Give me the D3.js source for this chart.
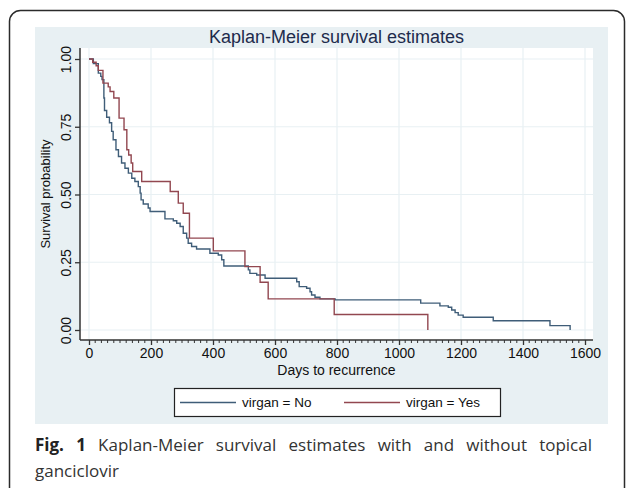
<!DOCTYPE html>
<html>
<head>
<meta charset="utf-8">
<script src="https://cdn.jsdelivr.net/npm/d3@7"></script>
<style>
  body { margin: 0; background: #fff; }
</style>
</head>
<body>
<div id="graph"></div>
<script>
// temps (jours) et survie
const noTime = [0, 14, 30, 38, 42, 48, 50, 57, 66, 73, 78, 87, 95, 105, 116, 127, 138, 148, 159, 165, 168, 175, 191, 197, 245, 272, 283, 294, 304, 315, 320, 331, 347, 390, 417, 428, 435, 514, 519, 541, 568, 670, 678, 702, 713, 718, 729, 745, 794, 1070, 1132, 1159, 1170, 1181, 1191, 1207, 1304, 1487, 1552];
const noSurv = [1, 0.983, 0.948, 0.936, 0.924, 0.856, 0.81, 0.785, 0.765, 0.733, 0.702, 0.665, 0.640, 0.616, 0.597, 0.579, 0.560, 0.548, 0.529, 0.505, 0.480, 0.465, 0.450, 0.437, 0.410, 0.403, 0.394, 0.382, 0.357, 0.339, 0.320, 0.308, 0.299, 0.283, 0.277, 0.259, 0.236, 0.222, 0.209, 0.203, 0.191, 0.178, 0.160, 0.154, 0.141, 0.129, 0.121, 0.115, 0.111, 0.099, 0.089, 0.084, 0.074, 0.064, 0.055, 0.047, 0.034, 0.016, 0.0];
const yesTime = [0, 12, 23, 30, 45, 62, 68, 80, 97, 113, 122, 128, 136, 141, 170, 262, 288, 304, 324, 401, 503, 552, 578, 791, 1093];
const yesSurv = [1, 0.988, 0.975, 0.958, 0.911, 0.897, 0.880, 0.856, 0.782, 0.739, 0.665, 0.646, 0.616, 0.585, 0.548, 0.511, 0.468, 0.431, 0.339, 0.292, 0.234, 0.176, 0.115, 0.057, 0];

const xTicks = [0, 200, 400, 600, 800, 1000, 1200, 1400, 1600];
const yTicks = [0, 0.25, 0.5, 0.75, 1];
const series = ["virgan = No", "virgan = Yes"];

const width = 627, height = 488;
const colors = { "virgan = No": "#3f5d78", "virgan = Yes": "#924750" };
const font = "'Liberation Sans', Arial, sans-serif";
const capFont = "'Open Sans', 'Noto Sans', sans-serif";

const svg = d3.select("#graph").append("svg")
    .attr("width", width)
    .attr("height", height);

// cadre arrondi de la figure
svg.append("rect")
    .attr("x", 9.5).attr("y", 10.5)
    .attr("width", 615).attr("height", 520)
    .attr("rx", 11)
    .attr("fill", "none").attr("stroke", "#2b2b2b").attr("stroke-width", 1.5);

// fond bleu clair (graph region) et zone blanche (plot region)
svg.append("rect").attr("x", 35).attr("y", 27).attr("width", 573).attr("height", 397).attr("fill", "#e8f0f3");
const plot = { left: 80, right: 593, top: 48, bottom: 340 };
svg.append("rect")
    .attr("x", plot.left).attr("y", plot.top)
    .attr("width", plot.right - plot.left).attr("height", plot.bottom - plot.top)
    .attr("fill", "#fff");

const x = d3.scaleLinear().domain([0, 1600]).range([89, 585]);
const y = d3.scaleLinear().domain([0, 1]).range([330, 59]);

// grille
svg.append("g").selectAll("line").data(xTicks).join("line")
    .attr("x1", d => x(d)).attr("x2", d => x(d))
    .attr("y1", plot.top).attr("y2", plot.bottom)
    .attr("stroke", "#e8f0f3").attr("stroke-width", 1.2);
svg.append("g").selectAll("line").data(yTicks).join("line")
    .attr("x1", plot.left).attr("x2", plot.right)
    .attr("y1", d => y(d)).attr("y2", d => y(d))
    .attr("stroke", "#e8f0f3").attr("stroke-width", 1.2);

// courbes en escalier
const line = d3.line()
    .x(d => x(d[0]))
    .y(d => y(d[1]))
    .curve(d3.curveStepAfter);

const curves = [
    { name: series[0], pts: d3.zip(noTime, noSurv) },
    { name: series[1], pts: d3.zip(yesTime, yesSurv) }
];
svg.append("g").selectAll("path").data(curves).join("path")
    .attr("fill", "none")
    .attr("stroke", d => colors[d.name])
    .attr("stroke-width", 1.4)
    .attr("d", d => line(d.pts));

// axe X
const gx = svg.append("g")
    .attr("transform", `translate(0,${plot.bottom})`)
    .call(d3.axisBottom(x).tickValues(xTicks).tickFormat(d3.format("d")).tickSize(5).tickSizeOuter(0).tickPadding(3));
gx.select(".domain").remove();
gx.selectAll("text").style("font", `14px ${font}`).attr("fill", "#111");
gx.selectAll(".tick line").attr("stroke", "#333").attr("stroke-width", 1.3);
// petites graduations tous les 20 jours
svg.append("g").selectAll("line").data(d3.range(0, 1601, 20).filter(d => d % 200 !== 0)).join("line")
    .attr("x1", d => x(d)).attr("x2", d => x(d))
    .attr("y1", plot.bottom).attr("y2", plot.bottom + 3)
    .attr("stroke", "#333").attr("stroke-width", 1);
svg.append("line")
    .attr("x1", plot.left).attr("x2", plot.right)
    .attr("y1", plot.bottom).attr("y2", plot.bottom)
    .attr("stroke", "#333").attr("stroke-width", 1.5);

// axe Y
const gy = svg.append("g")
    .attr("transform", `translate(${plot.left},0)`)
    .call(d3.axisLeft(y).tickValues(yTicks).tickFormat(d3.format(".2f")).tickSize(5).tickSizeOuter(0));
gy.select(".domain").remove();
gy.selectAll(".tick line").attr("stroke", "#333").attr("stroke-width", 1.3);
gy.selectAll("text")
    .style("font", `14px ${font}`).attr("fill", "#111")
    .attr("x", 0).attr("dy", null)
    .attr("text-anchor", "middle")
    .attr("transform", "translate(-13,0) rotate(-90)")
    .attr("dominant-baseline", "middle");
svg.append("line")
    .attr("x1", plot.left).attr("x2", plot.left)
    .attr("y1", plot.top).attr("y2", plot.bottom)
    .attr("stroke", "#333").attr("stroke-width", 1.5);

// titres
svg.append("text")
    .attr("x", (plot.left + plot.right) / 2).attr("y", 43)
    .attr("text-anchor", "middle")
    .style("font", `18px ${font}`).attr("fill", "#1d2b4c")
    .text("Kaplan-Meier survival estimates");
svg.append("text")
    .attr("x", (plot.left + plot.right) / 2).attr("y", 375)
    .attr("text-anchor", "middle")
    .style("font", `14px ${font}`).attr("fill", "#111")
    .text("Days to recurrence");
svg.append("text")
    .attr("transform", `translate(50,${(plot.top + plot.bottom) / 2}) rotate(-90)`)
    .attr("text-anchor", "middle")
    .style("font", `13px ${font}`).attr("fill", "#111")
    .text("Survival probability");

// légende
const leg = svg.append("g");
leg.append("rect").attr("x", 174.5).attr("y", 388.5).attr("width", 326).attr("height", 28)
    .attr("fill", "#fff").attr("stroke", "#222").attr("stroke-width", 1.2);
const legX = [180, 344];
series.forEach((s, i) => {
    leg.append("line")
        .attr("x1", legX[i]).attr("x2", legX[i] + 56)
        .attr("y1", 402.5).attr("y2", 402.5)
        .attr("stroke", colors[s]).attr("stroke-width", 1.4);
    leg.append("text")
        .attr("x", legX[i] + 62).attr("y", 407)
        .style("font", `13.5px ${font}`).attr("fill", "#111")
        .text(s);
});

// légende de la figure (texte justifié sur la première ligne)
const cap1 = svg.append("text")
    .attr("x", 35).attr("y", 451)
    .style("font", `17px ${capFont}`).attr("fill", "#333");
cap1.append("tspan").attr("font-weight", "bold").attr("fill", "#222").text("Fig. 1");
cap1.append("tspan").text(" Kaplan-Meier survival estimates with and without topical");
const len = cap1.node().getComputedTextLength();
const nSpaces = 8;
cap1.attr("word-spacing", Math.max(0, (592 - 35 - len) / nSpaces));
svg.append("text")
    .attr("x", 35).attr("y", 477)
    .style("font", `17px ${capFont}`).attr("fill", "#333")
    .text("ganciclovir");
</script>
</body>
</html>
